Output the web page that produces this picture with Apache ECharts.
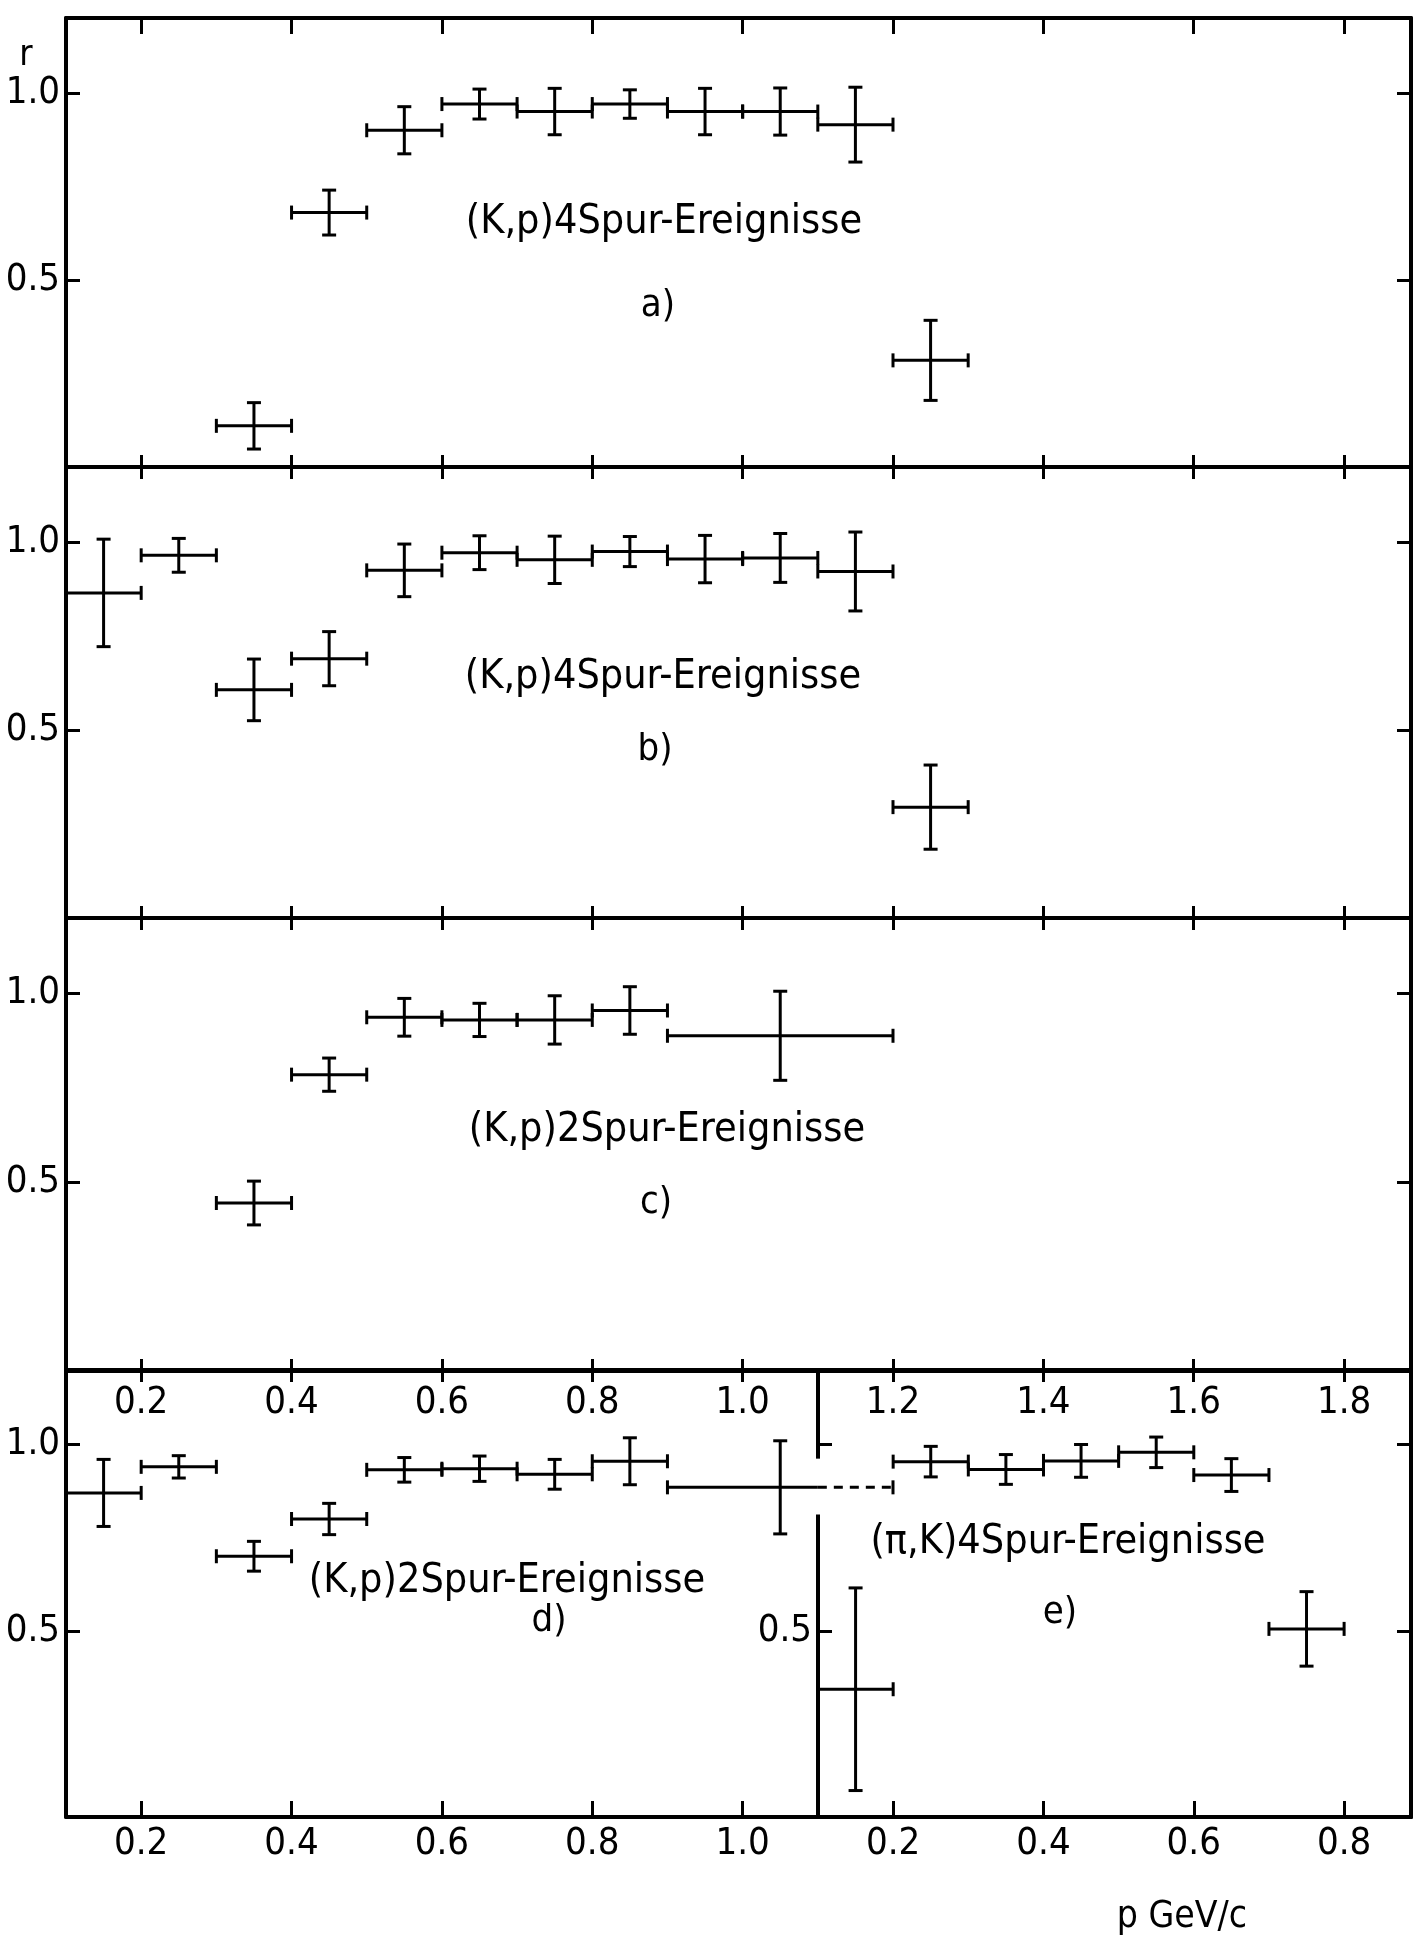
<!DOCTYPE html>
<html><head><meta charset="utf-8">
<script src="https://cdn.jsdelivr.net/npm/echarts@6/dist/echarts.min.js"></script>
<style>html,body{margin:0;padding:0;background:#fff}#c{width:1413px;height:1936px}</style>
</head><body><div id="c"></div>
<script>
// ---- tick values ----
const X_TICKS = [0.2, 0.4, 0.6, 0.8, 1.0, 1.2, 1.4, 1.6, 1.8];
const X_TICKS_D_BOTTOM = [0.2, 0.4, 0.6, 0.8, 1.0];
const X_TICKS_E = [0.2, 0.4, 0.6, 0.8];
const Y_TICKS = [0.5, 1.0];
const Y_LABELS_E = [0.5];

// ---- panel a) (K,p) 4Spur ----
const A_LO = [0.3, 0.4, 0.5, 0.6, 0.7, 0.8, 0.9, 1.0, 1.1, 1.2];
const A_HI = [0.4, 0.5, 0.6, 0.7, 0.8, 0.9, 1.0, 1.1, 1.2, 1.3];
const A_P  = [0.35, 0.45, 0.55, 0.65, 0.75, 0.85, 0.95, 1.05, 1.15, 1.25];
const A_R  = [0.11, 0.68, 0.90, 0.97, 0.95, 0.97, 0.95, 0.95, 0.915, 0.285];
const A_DR = [0.062, 0.06, 0.063, 0.04, 0.062, 0.038, 0.062, 0.063, 0.10, 0.107];

// ---- panel b) (K,p) 4Spur ----
const B_LO = [0.1, 0.2, 0.3, 0.4, 0.5, 0.6, 0.7, 0.8, 0.9, 1.0, 1.1, 1.2];
const B_HI = [0.2, 0.3, 0.4, 0.5, 0.6, 0.7, 0.8, 0.9, 1.0, 1.1, 1.2, 1.3];
const B_P  = [0.15, 0.25, 0.35, 0.45, 0.55, 0.65, 0.75, 0.85, 0.95, 1.05, 1.15, 1.25];
const B_R  = [0.865, 0.965, 0.607, 0.69, 0.925, 0.972, 0.953, 0.975, 0.955, 0.958, 0.922, 0.295];
const B_DR = [0.143, 0.045, 0.082, 0.072, 0.07, 0.045, 0.063, 0.04, 0.063, 0.065, 0.105, 0.112];

// ---- panel c) (K,p) 2Spur ----
const C_LO = [0.3, 0.4, 0.5, 0.6, 0.7, 0.8, 0.9];
const C_HI = [0.4, 0.5, 0.6, 0.7, 0.8, 0.9, 1.2];
const C_P  = [0.35, 0.45, 0.55, 0.65, 0.75, 0.85, 1.05];
const C_R  = [0.445, 0.785, 0.937, 0.93, 0.93, 0.955, 0.888];
const C_DR = [0.058, 0.044, 0.05, 0.044, 0.064, 0.063, 0.118];

// ---- panel d) (K,p) 2Spur ----
const D_LO = [0.1, 0.2, 0.3, 0.4, 0.5, 0.6, 0.7, 0.8, 0.9];
const D_HI = [0.2, 0.3, 0.4, 0.5, 0.6, 0.7, 0.8, 0.9, 1.2];
const D_P  = [0.15, 0.25, 0.35, 0.45, 0.55, 0.65, 0.75, 0.85, 1.05];
const D_R  = [0.87, 0.94, 0.70, 0.80, 0.932, 0.935, 0.92, 0.955, 0.885];
const D_DR = [0.09, 0.03, 0.04, 0.042, 0.033, 0.034, 0.04, 0.063, 0.125];
const D_DASH_FROM = 1.1;

// ---- panel e) (pi,K) 4Spur ----
const E_LO = [0.1, 0.2, 0.3, 0.4, 0.5, 0.6, 0.7];
const E_HI = [0.2, 0.3, 0.4, 0.5, 0.6, 0.7, 0.8];
const E_P  = [0.15, 0.25, 0.35, 0.45, 0.55, 0.65, 0.75];
const E_R  = [0.343, 0.954, 0.933, 0.956, 0.979, 0.918, 0.505];
const E_DR = [0.272, 0.041, 0.04, 0.044, 0.041, 0.044, 0.1];
const E_AXIS_GAP = [0.812, 0.962];

const TICK_FONT = '"Liberation Sans Narrow", "DejaVu Sans Condensed", sans-serif';
const ANNOT_FONT = '"DejaVu Sans Condensed", "DejaVu Sans", sans-serif';
const BLACK = '#000';

const X_MIN = 0.1, X_MAX = 1.889;
const LEFT = 66, WIDTH = 1345;
const GRIDS = [
  {top: 18, height: 449},
  {top: 467, height: 451},
  {top: 918, height: 453},
  {top: 1370, height: 447}
];
const E_GRID = {left: 818, width: 593, top: 1370, height: 447};

function rows(lo, hi, p, r, dr) {
  return lo.map((v, i) => [v, hi[i], p[i], r[i], dr[i]]);
}

function makeRender(dashFrom) {
  return function (params, api) {
    const lo = api.value(0), hi = api.value(1), p = api.value(2), r = api.value(3), dr = api.value(4);
    const L = api.coord([lo, r]), H = api.coord([hi, r]);
    const T = api.coord([p, r + dr]), B = api.coord([p, r - dr]);
    const st = {stroke: BLACK, lineWidth: 3, fill: null};
    const cap = 7;
    const ch = [];
    if (dashFrom != null && hi > dashFrom) {
      const S = api.coord([dashFrom, r]);
      ch.push({type: 'line', shape: {x1: L[0], y1: L[1], x2: S[0], y2: S[1]}, style: st});
      ch.push({type: 'line', shape: {x1: S[0], y1: S[1], x2: H[0], y2: H[1]},
               style: {stroke: BLACK, lineWidth: 3, fill: null, lineDash: [9, 7]}});
    } else {
      ch.push({type: 'line', shape: {x1: L[0], y1: L[1], x2: H[0], y2: H[1]}, style: st});
    }
    ch.push({type: 'line', shape: {x1: L[0], y1: L[1] - cap, x2: L[0], y2: L[1] + cap}, style: st});
    ch.push({type: 'line', shape: {x1: H[0], y1: H[1] - cap, x2: H[0], y2: H[1] + cap}, style: st});
    ch.push({type: 'line', shape: {x1: T[0], y1: T[1], x2: B[0], y2: B[1]}, style: st});
    ch.push({type: 'line', shape: {x1: T[0] - cap, y1: T[1], x2: T[0] + cap, y2: T[1]}, style: st});
    ch.push({type: 'line', shape: {x1: B[0] - cap, y1: B[1], x2: B[0] + cap, y2: B[1]}, style: st});
    return {type: 'group', children: ch};
  };
}

const fmt = v => Number(v).toFixed(1);
const axisLine = {show: true, onZero: false, lineStyle: {color: BLACK, width: 4}};

function xAxis(gridIndex, position, ticks, labels, tickLen, labelInside, margin, min, max) {
  return {
    type: 'value', gridIndex, position, min, max,
    axisLine,
    axisTick: {show: true, inside: true, length: tickLen, customValues: ticks,
               lineStyle: {color: BLACK, width: 3}},
    axisLabel: labels ? {show: true, inside: labelInside, margin, customValues: labels,
                         formatter: fmt, color: BLACK, fontFamily: TICK_FONT, fontSize: 38}
                      : {show: false},
    splitLine: {show: false}
  };
}
function yAxis(gridIndex, position, labels, showLine) {
  return {
    type: 'value', gridIndex, position, min: 0, max: 1.2,
    axisLine: showLine ? axisLine : {show: false},
    axisTick: {show: true, inside: true, length: 14, customValues: Y_TICKS,
               lineStyle: {color: BLACK, width: 3}},
    axisLabel: labels ? {show: true, margin: 6, customValues: labels, formatter: fmt,
                         color: BLACK, fontFamily: TICK_FONT, fontSize: 38}
                      : {show: false},
    splitLine: {show: false}
  };
}

const grid = [], xAxes = [], yAxes = [];
GRIDS.forEach((g, i) => {
  grid.push({left: LEFT, width: WIDTH, top: g.top, height: g.height});
  xAxes.push(xAxis(i, 'top', X_TICKS, i === 3 ? X_TICKS : null, i === 0 ? 16 : 12, true, 14, X_MIN, X_MAX));
  xAxes.push(xAxis(i, 'bottom', i === 3 ? X_TICKS_D_BOTTOM : X_TICKS, i === 3 ? X_TICKS_D_BOTTOM : null,
                   i === 3 ? 16 : 12, false, 8, X_MIN, X_MAX));
  yAxes.push(yAxis(i, 'left', Y_TICKS, true));
  yAxes.push(yAxis(i, 'right', null, true));
});
grid.push(E_GRID);
xAxes.push(xAxis(4, 'bottom', X_TICKS_E, X_TICKS_E, 16, false, 8, 0.1, 0.889));
yAxes.push(yAxis(4, 'left', Y_LABELS_E, false));

const panelData = [
  rows(A_LO, A_HI, A_P, A_R, A_DR),
  rows(B_LO, B_HI, B_P, B_R, B_DR),
  rows(C_LO, C_HI, C_P, C_R, C_DR),
  rows(D_LO, D_HI, D_P, D_R, D_DR)
];
const series = panelData.map((data, i) => ({
  type: 'custom', xAxisIndex: 2 * i + 1, yAxisIndex: 2 * i,
  renderItem: makeRender(i === 3 ? D_DASH_FROM : null),
  encode: {x: [0, 1, 2], y: 3}, data, silent: true
}));
series.push({
  type: 'custom', xAxisIndex: 8, yAxisIndex: 8, renderItem: makeRender(null),
  encode: {x: [0, 1, 2], y: 3}, data: rows(E_LO, E_HI, E_P, E_R, E_DR), silent: true
});
// panel e vertical axis line, interrupted where the dashed bin of d) passes
series.push({type: 'line', xAxisIndex: 8, yAxisIndex: 8, symbol: 'none', silent: true,
  lineStyle: {color: BLACK, width: 4}, data: [[0.1, 0], [0.1, E_AXIS_GAP[0]]]});
series.push({type: 'line', xAxisIndex: 8, yAxisIndex: 8, symbol: 'none', silent: true,
  lineStyle: {color: BLACK, width: 4}, data: [[0.1, E_AXIS_GAP[1]], [0.1, 1.2]]});

function txt(text, x, y, size, font) {
  return {type: 'text', x, y, silent: true,
    style: {text, fill: BLACK, font: size + 'px ' + (font || ANNOT_FONT),
            textAlign: 'center', textVerticalAlign: 'middle', align: 'center', verticalAlign: 'middle'}};
}
const graphic = [
  txt('r', 26, 56, 36, TICK_FONT),
  txt('(K,p)4Spur-Ereignisse', 664, 222, 41),
  txt('a)', 658, 306, 38),
  txt('(K,p)4Spur-Ereignisse', 663, 677, 41),
  txt('b)', 655, 750, 38),
  txt('(K,p)2Spur-Ereignisse', 667, 1130, 41),
  txt('c)', 656, 1203, 38),
  txt('(K,p)2Spur-Ereignisse', 507, 1581, 41),
  txt('d)', 549, 1621, 38),
  txt('(\u03c0,K)4Spur-Ereignisse', 1068, 1542, 41),
  txt('e)', 1060, 1613, 38),
  txt('p GeV/c', 1182, 1917, 37)
];

const chart = echarts.init(document.getElementById('c'), null, {renderer: 'canvas'});
chart.setOption({
  backgroundColor: '#fff',
  animation: false,
  grid, xAxis: xAxes, yAxis: yAxes, series, graphic
});
</script>
</body></html>
